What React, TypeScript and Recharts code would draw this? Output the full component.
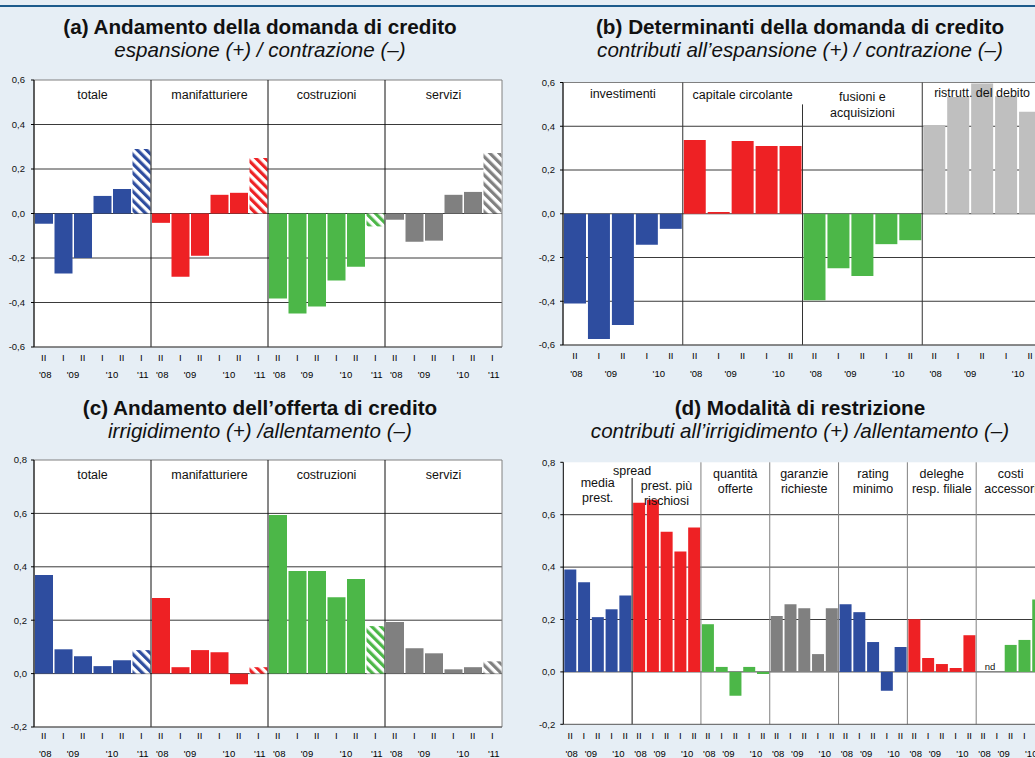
import React from "react";
import {
    BarChart,
    Bar,
    XAxis,
    YAxis,
    CartesianGrid,
    Cell,
    ReferenceLine,
    ReferenceArea,
} from "recharts";

const BLUE = "#2e4d9f";
const RED = "#ee2124";
const GREEN = "#4cb748";
const GREY = "#808080";
const LIGHT_GREY = "#bfbfbf";

// semesters II-2008 .. I-2011
const periods6 = ["II", "I", "II", "I", "II", "I"];
const years6 = ["'08", "'09", "", "'10", "", "'11"];
const yearBetween6 = [false, true, false, true, false, false];
const periods5 = ["II", "I", "II", "I", "II"];
const years5 = ["'08", "'09", "", "'10", ""];
const yearBetween5 = [false, true, false, true, false];

// (a) domanda di credito
const sectors = [["totale"], ["manifatturiere"], ["costruzioni"], ["servizi"]];
const domandaTotale = [-0.046, -0.27, -0.2, 0.079, 0.11, 0.29];
const domandaManif = [-0.042, -0.284, -0.19, 0.084, 0.093, 0.25];
const domandaCostr = [-0.382, -0.449, -0.418, -0.301, -0.239, -0.058];
const domandaServizi = [-0.028, -0.127, -0.122, 0.084, 0.097, 0.272];
const ticksAB = [-0.6, -0.4, -0.2, 0, 0.2, 0.4, 0.6];

// (b) determinanti della domanda
const determinanti = [["investimenti"], ["capitale circolante"], ["fusioni e", "acquisizioni"], ["ristrutt. del debito"]];
const investimenti = [-0.41, -0.573, -0.508, -0.142, -0.069];
const capitaleCircolante = [0.337, 0.008, 0.333, 0.31, 0.31];
const fusioniAcquisizioni = [-0.395, -0.249, -0.285, -0.139, -0.121];
const ristrutturazione = [0.406, 0.534, 0.595, 0.537, 0.466];

// (c) offerta di credito
const offertaTotale = [0.369, 0.091, 0.065, 0.028, 0.05, 0.088];
const offertaManif = [0.283, 0.024, 0.088, 0.08, -0.04, 0.024];
const offertaCostr = [0.594, 0.384, 0.384, 0.286, 0.354, 0.178];
const offertaServizi = [0.193, 0.095, 0.076, 0.016, 0.024, 0.046];
const ticksCD = [-0.2, 0, 0.2, 0.4, 0.6, 0.8];

// (d) modalita di restrizione
const modalita = [
    ["media", "prest."],
    ["prest. più", "rischiosi"],
    ["quantità", "offerte"],
    ["garanzie", "richieste"],
    ["rating", "minimo"],
    ["deleghe", "resp. filiale"],
    ["costi", "accessori"],
];
const mediaPrest = [0.391, 0.342, 0.209, 0.239, 0.292];
const spreadRischiosi = [0.646, 0.657, 0.535, 0.46, 0.551];
const quantitaOfferte = [0.182, 0.019, -0.091, 0.019, -0.008];
const garanzieRichieste = [0.213, 0.258, 0.243, 0.068, 0.243];
const ratingMinimo = [0.258, 0.228, 0.114, -0.072, 0.095];
const delegheFiliale = [0.201, 0.053, 0.03, 0.015, 0.14];
const costiAccessori = [null, null, 0.103, 0.122, 0.276];

type Row = {
    key: string;
    value: number | null;
    color: string;
    hatched: boolean;
    period: string;
    year: string;
    between: boolean;
};
type Group = { first: string; last: string; lines: string[] };

function build(
    prefix: string,
    series: { values: (number | null)[]; color: string }[],
    titles: string[][],
    periods: string[],
    years: string[],
    between: boolean[],
    lastHatched: boolean
) {
    const rows: Row[] = [];
    const groups: Group[] = [];
    series.forEach((s, g) => {
        s.values.forEach((v, i) =>
            rows.push({
                key: `${prefix}${g}-${i}`,
                value: v,
                color: s.color,
                hatched: lastHatched && i === s.values.length - 1,
                period: periods[i],
                year: years[i],
                between: between[i],
            })
        );
        groups.push({ first: `${prefix}${g}-0`, last: `${prefix}${g}-${s.values.length - 1}`, lines: titles[g] });
    });
    return { rows, groups };
}

const panelA = build(
    "a",
    [
        { values: domandaTotale, color: BLUE },
        { values: domandaManif, color: RED },
        { values: domandaCostr, color: GREEN },
        { values: domandaServizi, color: GREY },
    ],
    sectors, periods6, years6, yearBetween6, true
);
const panelB = build(
    "b",
    [
        { values: investimenti, color: BLUE },
        { values: capitaleCircolante, color: RED },
        { values: fusioniAcquisizioni, color: GREEN },
        { values: ristrutturazione, color: LIGHT_GREY },
    ],
    determinanti, periods5, years5, yearBetween5, false
);
const panelC = build(
    "c",
    [
        { values: offertaTotale, color: BLUE },
        { values: offertaManif, color: RED },
        { values: offertaCostr, color: GREEN },
        { values: offertaServizi, color: GREY },
    ],
    sectors, periods6, years6, yearBetween6, true
);
const panelD = build(
    "d",
    [
        { values: mediaPrest, color: BLUE },
        { values: spreadRischiosi, color: RED },
        { values: quantitaOfferte, color: GREEN },
        { values: garanzieRichieste, color: GREY },
        { values: ratingMinimo, color: BLUE },
        { values: delegheFiliale, color: RED },
        { values: costiAccessori, color: GREEN },
    ],
    modalita, periods5, years5, yearBetween5, false
);

const fmt = (v: number) => v.toFixed(1).replace(".", ",");

type Cfg = {
    id: string;
    left: number;
    top: number;
    width: number;
    height: number;
    margin: { top: number; right: number; bottom: number; left: number };
    yWidth: number;
    ticks: number[];
    tickMargin: number;
    xHeight: number;
    periodDy: number;
    yearDy: number;
    titleDy: number[];
    lineH: number;
    dividerColors: string[];
    dividerTop: (number | null)[];
    spread?: { text: string; dy: number };
    nd?: boolean;
};

const LABEL_Z = 2000;

function Panel({ cfg, data }: { cfg: Cfg; data: { rows: Row[]; groups: Group[] } }) {
    const { rows, groups } = data;
    const domain: [number, number] = [cfg.ticks[0], cfg.ticks[cfg.ticks.length - 1]];
    const plotW = cfg.width - cfg.margin.left - cfg.margin.right - cfg.yWidth;
    const band = plotW / rows.length;
    const byKey = new Map(rows.map((r) => [r.key, r]));
    const hatchColors = Array.from(new Set(rows.filter((r) => r.hatched).map((r) => r.color)));
    const hatchId = (c: string) => `${cfg.id}-hatch-${c.slice(1)}`;

    const tick = (p: any) => {
        const r = byKey.get(p.payload.value);
        if (!r) return <g />;
        return (
            <g>
                <text x={p.x} y={p.y + cfg.periodDy} textAnchor="middle" fontSize={9.5} fill="#000">
                    {r.period}
                </text>
                {r.year && (
                    <text
                        x={p.x + (r.between ? band / 2 : 1.5)}
                        y={p.y + cfg.yearDy}
                        textAnchor="middle"
                        fontSize={9.5}
                        fill="#000"
                    >
                        {r.year}
                    </text>
                )}
            </g>
        );
    };

    const titleLabel = (lines: string[], dy: number) => (lp: any) => {
        const vb = lp.viewBox;
        const cx = vb.x + vb.width / 2;
        return (
            <g>
                {lines.map((t, li) => (
                    <text
                        key={li}
                        x={cx}
                        y={vb.y + dy + li * cfg.lineH}
                        textAnchor="middle"
                        fontSize={12.5}
                        fill="#111"
                    >
                        {t}
                    </text>
                ))}
            </g>
        );
    };

    return (
        <div style={{ position: "absolute", left: cfg.left, top: cfg.top }}>
            <BarChart width={cfg.width} height={cfg.height} data={rows} margin={cfg.margin} barCategoryGap={1}>
                <defs>
                    {hatchColors.map((c) => (
                        <pattern
                            key={c}
                            id={hatchId(c)}
                            patternUnits="userSpaceOnUse"
                            width={6.5}
                            height={6.5}
                            patternTransform="rotate(-45)"
                        >
                            <rect width={6.5} height={6.5} fill="#fff" />
                            <rect width={3.2} height={6.5} fill={c} />
                        </pattern>
                    ))}
                </defs>
                <CartesianGrid
                    vertical={false}
                    stroke="#3a3a3a"
                    fill="#fff"
                    horizontalValues={cfg.ticks.slice(1, -1)}
                />
                <XAxis
                    dataKey="key"
                    interval={0}
                    axisLine={{ stroke: "#555" }}
                    tickLine={false}
                    tickSize={0}
                    tickMargin={0}
                    height={cfg.xHeight}
                    tick={tick}
                />
                <YAxis
                    type="number"
                    domain={domain}
                    ticks={cfg.ticks}
                    interval={0}
                    width={cfg.yWidth}
                    tickSize={3}
                    tickMargin={cfg.tickMargin}
                    tickFormatter={fmt}
                    tick={{ fontSize: 9.5, fill: "#111" }}
                    axisLine={{ stroke: "#000" }}
                    tickLine={{ stroke: "#000" }}
                />
                <Bar dataKey="value" isAnimationActive={false}>
                    {rows.map((r) => (
                        <Cell key={r.key} fill={r.hatched ? `url(#${hatchId(r.color)})` : r.color} />
                    ))}
                </Bar>
                {groups.slice(1).map((g, i) => {
                    const top = cfg.dividerTop[i];
                    return top == null ? (
                        <ReferenceLine key={"v" + g.first} x={g.first} position="start" stroke={cfg.dividerColors[i]} />
                    ) : (
                        <ReferenceLine
                            key={"v" + g.first}
                            position="start"
                            stroke={cfg.dividerColors[i]}
                            segment={[
                                { x: g.first, y: domain[0] },
                                { x: g.first, y: top },
                            ]}
                        />
                    );
                })}
                <ReferenceArea
                    x1={rows[0].key}
                    x2={rows[rows.length - 1].key}
                    y1={domain[0]}
                    y2={domain[1]}
                    fill="none"
                    stroke="#808080"
                />
                {groups.map((g, gi) => (
                    <ReferenceArea
                        key={"t" + g.first}
                        x1={g.first}
                        x2={g.last}
                        y1={domain[1] - 0.1}
                        y2={domain[1]}
                        ifOverflow="visible"
                        fill="none"
                        stroke="none"
                        zIndex={LABEL_Z}
                        label={titleLabel(g.lines, cfg.titleDy[gi])}
                    />
                ))}
                {cfg.spread && (
                    <ReferenceArea
                        x1={groups[0].last}
                        x2={groups[1].first}
                        y1={domain[1] - 0.1}
                        y2={domain[1]}
                        ifOverflow="visible"
                        fill="none"
                        stroke="none"
                        zIndex={LABEL_Z}
                        label={titleLabel([cfg.spread.text], cfg.spread.dy)}
                    />
                )}
                {cfg.nd && (
                    <ReferenceArea
                        x1={groups[groups.length - 1].first}
                        x2={`${cfg.id}${groups.length - 1}-1`}
                        y1={0}
                        y2={0.04}
                        fill="none"
                        stroke="none"
                        label={{ value: "nd", position: "center", fontSize: 9.5, fill: "#111" }}
                    />
                )}
            </BarChart>
        </div>
    );
}

const cfgA: Cfg = {
    id: "a", left: 0, top: 70, width: 515, height: 320,
    margin: { top: 10, right: 13, bottom: 0, left: 0 },
    yWidth: 34, ticks: ticksAB, tickMargin: 6, xHeight: 43, periodDy: 13.5, yearDy: 30.5,
    titleDy: [19.3, 19.3, 19.3, 19.3], lineH: 15,
    dividerColors: ["#111", "#111", "#111"], dividerTop: [null, null, null],
};
const cfgB: Cfg = {
    id: "b", left: 520, top: 72, width: 527, height: 316,
    margin: { top: 10.5, right: 5, bottom: 0, left: 0 },
    yWidth: 43, ticks: ticksAB, tickMargin: 5, xHeight: 43, periodDy: 14, yearDy: 32,
    titleDy: [15.8, 16.8, 18.5, 14.5], lineH: 15.6,
    dividerColors: ["#333", "#333", "#333"], dividerTop: [null, 0.5, null],
};
const cfgC: Cfg = {
    id: "c", left: 0, top: 450, width: 515, height: 312,
    margin: { top: 10, right: 13, bottom: 0, left: 0 },
    yWidth: 34, ticks: ticksCD, tickMargin: 4, xHeight: 35, periodDy: 11.8, yearDy: 29.6,
    titleDy: [18.6, 18.6, 18.6, 18.6], lineH: 15,
    dividerColors: ["#111", "#111", "#111"], dividerTop: [null, null, null],
};
const cfgD: Cfg = {
    id: "d", left: 520, top: 452, width: 530, height: 310,
    margin: { top: 10.3, right: 5, bottom: 0, left: 0 },
    yWidth: 43.3, ticks: ticksCD, tickMargin: 5, xHeight: 37.7, periodDy: 14.5, yearDy: 32.5,
    titleDy: [24.7, 28, 16, 16, 16, 16, 16], lineH: 14.8,
    dividerColors: ["#111", "#808080", "#808080", "#808080", "#808080", "#808080"],
    dividerTop: [0.74, null, null, null, null, null],
    spread: { text: "spread", dy: 12.7 },
    nd: true,
};

function Title({ left, top, width, title, sub }: { left: number; top: number; width: number; title: string; sub: string }) {
    return (
        <div style={{ position: "absolute", left, top, width, textAlign: "center", color: "#111" }}>
            <div style={{ fontWeight: "bold", fontSize: 20.7, lineHeight: "23px", whiteSpace: "nowrap" }}>{title}</div>
            <div style={{ fontStyle: "italic", fontSize: 20.6, lineHeight: "23px", whiteSpace: "nowrap" }}>{sub}</div>
        </div>
    );
}

export default function App() {
    return (
        <div
            style={{
                position: "fixed",
                left: 0,
                top: 0,
                width: 1035,
                height: 758,
                overflow: "hidden",
                background: "#e6eef5",
                fontFamily: "'Liberation Sans', Arial, sans-serif",
            }}
        >
            <div style={{ position: "absolute", left: 0, top: 5, width: 1035, height: 2, background: "#1d5b8c" }} />
            <Title left={0} top={15} width={520} title="(a) Andamento della domanda di credito" sub="espansione (+) / contrazione (–)" />
            <Title left={520} top={15} width={560} title="(b) Determinanti della domanda di credito" sub="contributi all’espansione (+) / contrazione (–)" />
            <Title left={0} top={396} width={520} title="(c) Andamento dell’offerta di credito" sub="irrigidimento (+) /allentamento (–)" />
            <Title left={520} top={396} width={560} title="(d) Modalità di restrizione" sub="contributi all’irrigidimento (+) /allentamento (–)" />
            <Panel cfg={cfgA} data={panelA} />
            <Panel cfg={cfgB} data={panelB} />
            <Panel cfg={cfgC} data={panelC} />
            <Panel cfg={cfgD} data={panelD} />
        </div>
    );
}
